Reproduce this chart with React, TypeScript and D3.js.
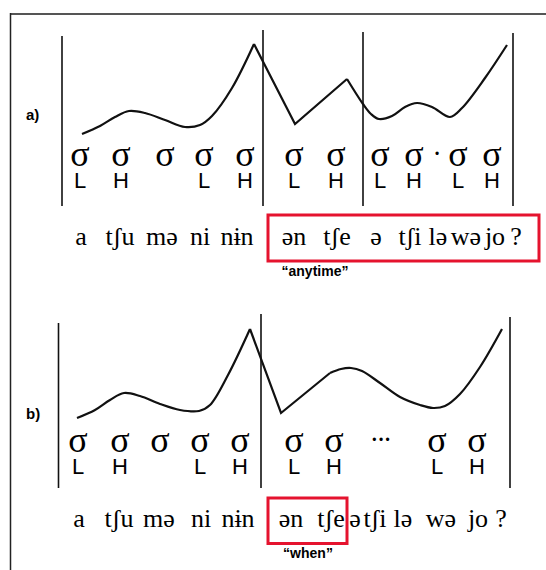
import React from "react";
import * as d3 from "d3";

// ---- data (x in time units, y in pitch units) ----
const pitchA1: [number, number][] = [[22,6],[40,14],[55,23],[69,29],[85,27],[105,20],[125,13],[140,15],[152,24],[172,52],[194,96]];
const pitchA2: [number, number][] = [[194,96],[235,16],[287,61]];
const pitchA3: [number, number][] = [[287,61],[303,36],[311,26],[319,21],[332,24],[345,33],[357,37],[372,33],[390,23],[402,32],[425,62],[447,95]];

const pitchB1: [number, number][] = [[17,4],[35,12],[50,22],[64,29],[80,26],[100,18],[120,12],[139,11],[150,17],[168,47],[190,93]];
const pitchB2: [number, number][] = [[190,93],[221,9],[270,49]];
const pitchB3: [number, number][] = [[270,49],[281,53],[291,54],[302,51],[320,39],[340,25],[360,17],[373,14],[385,16],[400,28],[420,55],[442,93]];

const boundsA = [2, 203, 303, 453];
const boundTopsA = [104, 110, 108, 107];
const boundsB = [-1.5, 201, 450];
const boundTopsB = [99, 108, 105];
const boundBottom = -66;

const sigmaXA = [20, 61, 105, 144, 185, 234, 276, 320, 354, 398, 432];
const tonesA = ["L", "H", "", "L", "H", "L", "H", "L", "H", "L", "H"];
const dotXA = 377;

const sigmaXB = [18, 60, 100, 140, 180, 234, 274, 377, 417];
const tonesB = ["L", "H", "", "L", "H", "L", "H", "L", "H"];
const ellipsisXB = 321;

const wordsA = ["a", "tʃu", "mə", "ni", "nɨn", "ən", "tʃe", "ə", "tʃi", "lə", "wə", "jo", "?"];
const wordXA = [21, 60, 102, 140, 177, 234, 277, 316, 350, 378, 406, 435, 456];
const wordsB = ["a", "tʃu", "mə", "ni", "nɨn", "ən", "tʃe", "ə", "tʃi", "lə", "wə", "jo", "?"];
const wordXB = [19, 59, 99, 141, 178, 231, 271, 295, 315, 343, 381, 418, 441];

const glossA = "“anytime”";
const glossB = "“when”";

const W = 546, H = 570;
const x = d3.scaleLinear().domain([0, 450]).range([60, 510]);
const yA = d3.scaleLinear().domain([0, 100]).range([140, 40]);
const yB = d3.scaleLinear().domain([0, 100]).range([422, 322]);

const serif = "Liberation Serif, DejaVu Serif, serif";
const sans = "Liberation Sans, Arial, sans-serif";
const RED = "#e5132e";

function Panel({ y, p1, p2, p3, bounds, tops, sigmaX, tones, words, wordX, label, extraMark, extraX, box, gloss, glossX, off }: any) {
  const smooth = d3.line<[number, number]>().x(d => x(d[0])).y(d => y(d[1])).curve(d3.curveCatmullRom.alpha(0.5));
  const straight = d3.line<[number, number]>().x(d => x(d[0])).y(d => y(d[1]));
  const sigmaBase = 166 + off;
  const toneBase = 188 + off;
  const wordBase = off === 0 ? 245 : 527;
  return (
    <g>
      <text x={26} y={off === 0 ? 120 : 419} fontFamily={sans} fontWeight="bold" fontSize={15}>{label}</text>
      {bounds.map((b: number, i: number) => (
        <line key={i} x1={x(b)} x2={x(b)} y1={y(tops[i])} y2={y(boundBottom)} stroke="#111" strokeWidth={1.6} />
      ))}
      <path d={smooth(p1) || ""} fill="none" stroke="#111" strokeWidth={2.2} />
      <path d={straight(p2) || ""} fill="none" stroke="#111" strokeWidth={2.2} strokeLinejoin="miter" />
      <path d={smooth(p3) || ""} fill="none" stroke="#111" strokeWidth={2.2} />
      {sigmaX.map((s: number, i: number) => (
        <g key={i}>
          <text x={x(s)} y={sigmaBase} textAnchor="middle" fontFamily={serif} fontSize={36}>σ</text>
          <text x={x(s)} y={toneBase} textAnchor="middle" fontFamily={sans} fontSize={22}>{tones[i]}</text>
        </g>
      ))}
      <text x={x(extraX)} y={sigmaBase - 6} textAnchor="middle" fontFamily={serif} fontSize={20} fontWeight="bold">{extraMark}</text>
      {words.map((w: string, i: number) => (
        <text key={i} x={x(wordX[i])} y={wordBase} textAnchor="middle" fontFamily={serif} fontSize={26}>{w}</text>
      ))}
      <rect x={box[0]} y={box[1]} width={box[2] - box[0]} height={box[3] - box[1]} fill="none" stroke={RED} strokeWidth={3} />
      <text x={glossX} y={off === 0 ? 276 : 558} textAnchor="middle" fontFamily={sans} fontWeight="bold" fontSize={14}>{gloss}</text>
    </g>
  );
}

export default function App() {
  return (
    <svg width={W} height={H} style={{ position: "absolute", left: 0, top: 0, background: "#fff" }}>
      <rect x={0} y={0} width={W} height={H} fill="#fff" />
      <line x1={10} x2={W} y1={14} y2={14} stroke="#555" strokeWidth={2} />
      <line x1={10.5} x2={10.5} y1={13} y2={H} stroke="#222" strokeWidth={1.5} />
      <Panel y={yA} p1={pitchA1} p2={pitchA2} p3={pitchA3} bounds={boundsA} tops={boundTopsA}
        sigmaX={sigmaXA} tones={tonesA} words={wordsA} wordX={wordXA} label="a)"
        extraMark="·" extraX={dotXA} box={[268, 215, 539, 261]} gloss={glossA} glossX={315} off={0} />
      <Panel y={yB} p1={pitchB1} p2={pitchB2} p3={pitchB3} bounds={boundsB} tops={boundTopsB}
        sigmaX={sigmaXB} tones={tonesB} words={wordsB} wordX={wordXB} label="b)"
        extraMark="···" extraX={ellipsisXB} box={[268, 498, 347, 543.5]} gloss={glossB} glossX={308} off={286} />
    </svg>
  );
}
